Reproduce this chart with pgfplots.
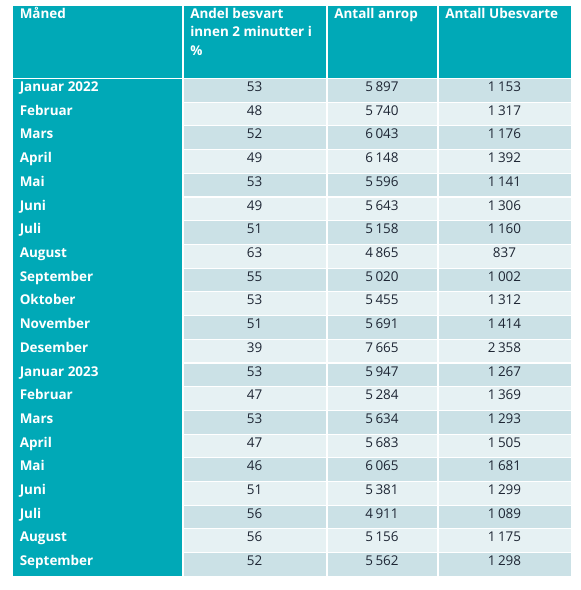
\documentclass[border=0pt]{standalone}
\usepackage{fontspec}
\setmainfont{Open Sans}
\usepackage{pgfplots}
\usepackage{pgfplotstable}
\pgfplotsset{compat=1.18}
\definecolor{tealc}{RGB}{0,169,183}
\definecolor{darkrow}{RGB}{203,225,230}
\definecolor{lightrow}{RGB}{230,241,243}
\definecolor{txt}{RGB}{30,38,52}
\pgfplotstableread[col sep=comma,row sep=\\]{
r,month,andel,anrop,ubes\\
0,Januar 2022,53,5897,1153\\
1,Februar,48,5740,1317\\
2,Mars,52,6043,1176\\
3,April,49,6148,1392\\
4,Mai,53,5596,1141\\
5,Juni,49,5643,1306\\
6,Juli,51,5158,1160\\
7,August,63,4865,837\\
8,September,55,5020,1002\\
9,Oktober,53,5455,1312\\
10,November,51,5691,1414\\
11,Desember,39,7665,2358\\
12,Januar 2023,53,5947,1267\\
13,Februar,47,5284,1369\\
14,Mars,53,5634,1293\\
15,April,47,5683,1505\\
16,Mai,46,6065,1681\\
17,Juni,51,5381,1299\\
18,Juli,56,4911,1089\\
19,August,56,5156,1175\\
20,September,52,5562,1298\\
}\data
\newcommand{\tfont}{\fontsize{10.1}{13}\selectfont}
\begin{document}
\begin{tikzpicture}
\begin{axis}[
  width=435.75pt, height=442.5pt, scale only axis,
  xmin=0, xmax=581, ymin=0, ymax=590, y dir=reverse,
  hide axis, clip=false,
  /pgf/number format/assume math mode=true,
  /pgf/number format/1000 sep={\hspace{0.18em}},
]
\path[use as bounding box] (rel axis cs:0,0) rectangle (rel axis cs:1,1);
% header
\fill[tealc] (axis cs:12.5,6) rectangle (axis cs:570.5,77.5);
% rows
\pgfplotsinvokeforeach{0,2,...,20}{
  \fill[darkrow] (axis cs:12.5,{79+23.71*#1}) rectangle (axis cs:570.5,{79+23.71*#1+22.6});
}
\pgfplotsinvokeforeach{1,3,...,19}{
  \fill[lightrow] (axis cs:12.5,{79+23.71*#1}) rectangle (axis cs:570.5,{79+23.71*#1+22.6});
}
\fill[tealc] (axis cs:12.5,79) rectangle (axis cs:182.5,{79+23.71*20+22.6});
% column separators
\draw[white, line width=1.2pt] (axis cs:183.2,5) -- (axis cs:183.2,580);
\draw[white, line width=1.2pt] (axis cs:327,5) -- (axis cs:327,580);
\draw[white, line width=1.2pt] (axis cs:438,5) -- (axis cs:438,580);
% header text
\node[anchor=base west, text=white, font=\tfont\bfseries, inner sep=0pt] at (axis cs:19.5,18.5) {Måned};
\node[anchor=base west, text=white, font=\tfont\bfseries, inner sep=0pt] at (axis cs:190,18.5) {Andel besvart};
\node[anchor=base west, text=white, font=\tfont\bfseries, inner sep=0pt] at (axis cs:190,36.7) {innen 2 minutter i};
\node[anchor=base west, text=white, font=\tfont\bfseries, inner sep=0pt] at (axis cs:190,55) {\%};
\node[anchor=base west, text=white, font=\tfont\bfseries, inner sep=0pt] at (axis cs:334,18.5) {Antall anrop};
\node[anchor=base west, text=white, font=\tfont\bfseries, inner sep=0pt] at (axis cs:445,18.5) {Antall Ubesvarte};
% month names
\addplot[draw=none, mark=none, nodes near coords, point meta=explicit symbolic,
  nodes near coords style={anchor=base west, text=white, font=\tfont\bfseries, inner sep=0pt}]
  table[x expr=19.5, y expr={79+23.71*\thisrow{r}+12.5}, meta=month] {\data};
% values
\addplot[draw=none, mark=none, nodes near coords, point meta=explicit,
  nodes near coords style={anchor=base, text=txt, font=\tfont, inner sep=0pt}]
  table[x expr=254.5, y expr={79+23.71*\thisrow{r}+12.5}, meta=andel] {\data};
\addplot[draw=none, mark=none, nodes near coords, point meta=explicit,
  nodes near coords style={anchor=base, text=txt, font=\tfont, inner sep=0pt}]
  table[x expr=382, y expr={79+23.71*\thisrow{r}+12.5}, meta=anrop] {\data};
\addplot[draw=none, mark=none, nodes near coords, point meta=explicit,
  nodes near coords style={anchor=base, text=txt, font=\tfont, inner sep=0pt}]
  table[x expr=504.5, y expr={79+23.71*\thisrow{r}+12.5}, meta=ubes] {\data};
\end{axis}
\end{tikzpicture}
\end{document}
